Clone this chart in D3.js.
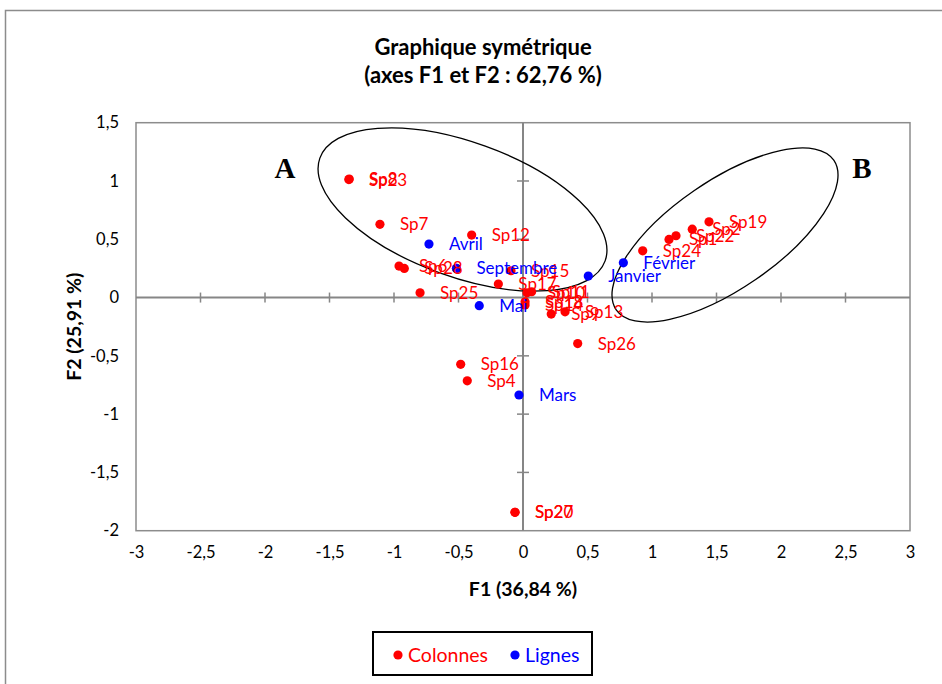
<!DOCTYPE html>
<html><head><meta charset="utf-8">
<script src="https://cdn.jsdelivr.net/npm/d3@7"></script>
<style>body{margin:0;background:#fff}svg{display:block}</style>
</head><body>
<svg id="c" width="942" height="684"></svg>
<script>
// ---- data ----
const colLabels = ["Sp8","Sp23","Sp7","Sp12","Sp6","Sp28","Sp5","Sp15","Sp17","Sp25","Sp10","Sp11","Sp18","Sp14","Sp9","Sp13","Sp26","Sp16","Sp4","Sp20","Sp27","Sp19","Sp2","Sp22","Sp1","Sp24"];
const colF1 = [-1.347,-1.350,-1.109,-0.398,-0.961,-0.920,-0.516,-0.093,-0.191,-0.798,0.031,0.067,0.016,0.016,0.219,0.326,0.424,-0.483,-0.432,-0.062,-0.062,1.442,1.312,1.186,1.132,0.928];
const colF2 = [1.016,1.012,0.628,0.536,0.270,0.250,0.250,0.230,0.116,0.041,0.041,0.050,-0.036,-0.064,-0.142,-0.122,-0.395,-0.573,-0.714,-1.842,-1.842,0.650,0.587,0.530,0.499,0.401];
const hiddenLabels = ["Sp5"]; // label lies under "Septembre" in the reference
const rowLabels = ["Avril","Septembre","Mai","Janvier","Février","Mars"];
const rowF1 = [-0.729,-0.516,-0.339,0.506,0.778,-0.031];
const rowF2 = [0.459,0.250,-0.070,0.184,0.298,-0.836];
const xTicks = [-3,-2.5,-2,-1.5,-1,-0.5,0,0.5,1,1.5,2,2.5,3];
const yTicks = [-2,-1.5,-1,-0.5,0,0.5,1,1.5];
const titleLines = ["Graphique symétrique","(axes F1 et F2 : 62,76 %)"];
const xTitle = "F1 (36,84 %)", yTitle = "F2 (25,91 %)";
const legendItems = [{name:"Colonnes",color:"#ff0000"},{name:"Lignes",color:"#0000ff"}];

// ---- layout ----
const svg = d3.select("#c");
const L=136, R=910, T=122.7, B=530.7;
const x = d3.scaleLinear().domain([-3,3]).range([L,R]);
const y = d3.scaleLinear().domain([-2,1.5]).range([B,T]);
const loc = d3.formatLocale({decimal:",",thousands:" ",grouping:[3],currency:["","€"],minus:"-"});
const fmt = loc.format("~g");
const font = "Lato, 'Open Sans', sans-serif";

// outer frame
svg.append("path").attr("d","M5.5,684 V10.5 H942").attr("fill","none").attr("stroke","#8c8c8c").attr("stroke-width",1.5);

// title
svg.append("g").selectAll("text").data(titleLines).join("text")
  .attr("x",483).attr("y",(d,i)=>55+i*28).attr("text-anchor","middle")
  .attr("font-family",font).attr("font-weight","bold").attr("font-size",22).attr("fill","#000").text(d=>d);

// plot border
svg.append("rect").attr("x",L).attr("y",T).attr("width",R-L).attr("height",B-T)
  .attr("fill","none").attr("stroke","#8c8c8c").attr("stroke-width",1.5);

// zero axes
const ax="#868686";
svg.append("line").attr("x1",L).attr("x2",R).attr("y1",y(0)).attr("y2",y(0)).attr("stroke",ax).attr("stroke-width",2);
svg.append("line").attr("y1",T).attr("y2",B).attr("x1",x(0)).attr("x2",x(0)).attr("stroke",ax).attr("stroke-width",2);
svg.append("g").selectAll("line").data(xTicks.filter(t=>t>-3&&t<3&&t!==0)).join("line")
  .attr("x1",d=>x(d)).attr("x2",d=>x(d)).attr("y1",y(0)-5).attr("y2",y(0)+5).attr("stroke",ax).attr("stroke-width",1.5);
svg.append("g").selectAll("line").data(yTicks.filter(t=>t>-2&&t<1.5&&t!==0)).join("line")
  .attr("y1",d=>y(d)).attr("y2",d=>y(d)).attr("x1",x(0)-6).attr("x2",x(0)+6).attr("stroke",ax).attr("stroke-width",1.5);

// tick labels via axes
const gx = svg.append("g").attr("transform",`translate(0,${B})`)
  .call(d3.axisBottom(x).tickValues(xTicks).tickFormat(fmt).tickSize(0).tickPadding(16));
const gy = svg.append("g").attr("transform",`translate(${L},0)`)
  .call(d3.axisLeft(y).tickValues(yTicks).tickFormat(fmt).tickSize(0).tickPadding(17));
[gx,gy].forEach(g=>{g.select(".domain").remove();
  g.selectAll("text").attr("font-family",font).attr("font-size",16.5).attr("fill","#000");});

// axis titles
svg.append("text").attr("x",x(0)).attr("y",596).attr("text-anchor","middle")
  .attr("font-family",font).attr("font-weight","bold").attr("font-size",19.5).text(xTitle);
svg.append("text").attr("transform",`translate(81,${y(-0.25)}) rotate(-90)`).attr("text-anchor","middle")
  .attr("font-family",font).attr("font-weight","bold").attr("font-size",19.5).text(yTitle);

// ellipses
svg.append("ellipse").attr("cx",462.5).attr("cy",209.5).attr("rx",151.6).attr("ry",67.3)
  .attr("transform","rotate(19.8 462.5 209.5)").attr("fill","none").attr("stroke","#000").attr("stroke-width",1.3);
svg.append("ellipse").attr("cx",725).attr("cy",235).attr("rx",132).attr("ry",54.1)
  .attr("transform","rotate(-34.5 725 235)").attr("fill","none").attr("stroke","#000").attr("stroke-width",1.3);
svg.append("text").attr("x",285).attr("y",178).attr("text-anchor","middle").attr("font-family","'Liberation Serif', serif").attr("font-weight","bold").attr("font-size",29).text("A");
svg.append("text").attr("x",862).attr("y",178).attr("text-anchor","middle").attr("font-family","'Liberation Serif', serif").attr("font-weight","bold").attr("font-size",29).text("B");

// points
const cols = colLabels.map((n,i)=>({n,x:colF1[i],y:colF2[i],c:"#ff0000"}));
const rows = rowLabels.map((n,i)=>({n,x:rowF1[i],y:rowF2[i],c:"#0000ff"}));
const pts = cols.concat(rows);
svg.append("g").selectAll("circle").data(pts).join("circle")
  .attr("cx",d=>x(d.x)).attr("cy",d=>y(d.y)).attr("r",4.6).attr("fill",d=>d.c);
svg.append("g").selectAll("text").data(pts.filter(d=>!hiddenLabels.includes(d.n))).join("text")
  .attr("x",d=>x(d.x)+20).attr("y",d=>y(d.y)+6).attr("font-family",font).attr("font-size",17)
  .attr("fill",d=>d.c).text(d=>d.n);

// legend
const lg = svg.append("g");
lg.append("rect").attr("x",373).attr("y",632).attr("width",219).attr("height",43).attr("fill","#fff").attr("stroke","#000").attr("stroke-width",2);
const lx=[398,515];
legendItems.forEach((d,i)=>{
  lg.append("circle").attr("cx",lx[i]).attr("cy",655).attr("r",4.6).attr("fill",d.color);
  lg.append("text").attr("x",lx[i]+10).attr("y",662).attr("font-family",font).attr("font-size",19.5).attr("fill",d.color).text(d.name);
});
</script>
</body></html>
